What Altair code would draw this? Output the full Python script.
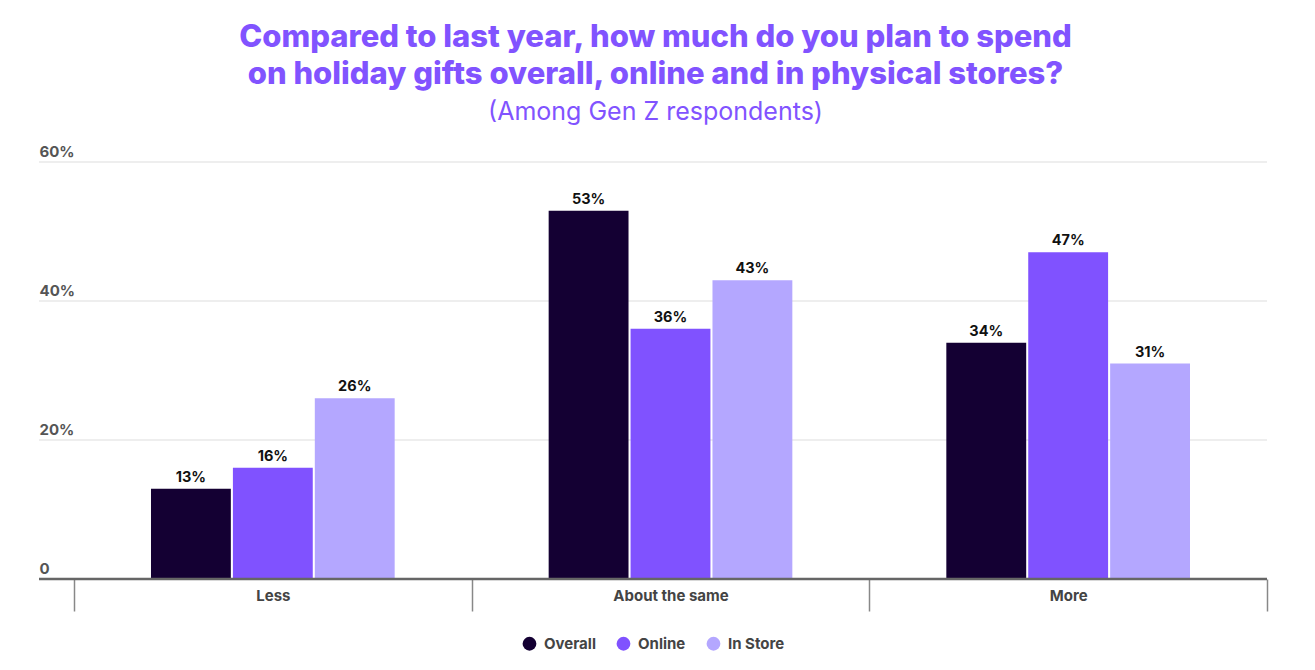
import altair as alt
import pandas as pd

categories = ["Less", "About the same", "More"]
series = ["Overall", "Online", "In Store"]
overall = [13, 53, 34]
online = [16, 36, 47]
instore = [26, 43, 31]
colors = ["#140033", "#8052FF", "#B4A7FF"]
grid_vals = [20, 40, 60]

rows = []
for s, vals in zip(series, [overall, online, instore]):
    for c, v in zip(categories, vals):
        rows.append({"category": c, "series": s, "value": v, "label": f"{v}%"})
df = pd.DataFrame(rows)

FONT = "Inter"
W, H = 1193, 417

x_enc = alt.X(
    "category:N", sort=categories,
    scale=alt.Scale(paddingInner=0, paddingOuter=0),
    axis=alt.Axis(title=None, tickBand="extent", tickSize=32, tickColor="#888",
                  tickWidth=1.5, domain=False, labelPadding=-23, labelFont=FONT,
                  labelFontSize=15, labelFontWeight="bold", labelColor="#444",
                  labelAngle=0),
)
xo_enc = alt.XOffset("series:N", sort=series,
                     scale=alt.Scale(paddingInner=0.025, paddingOuter=0.94))
y_enc = alt.Y(
    "value:Q", scale=alt.Scale(domain=[0, 60], nice=False),
    axis=alt.Axis(title=None, values=[0, 20, 40, 60],
                  labelExpr="datum.value == 0 ? '0' : datum.value + '%'",
                  grid=False, domain=False, ticks=False, labelAlign="left",
                  labelPadding=35, labelBaseline="alphabetic", labelOffset=-6,
                  labelFont=FONT, labelFontSize=15, labelFontWeight="bold",
                  labelColor="#555"),
)

grid = alt.Chart(pd.DataFrame({"v": grid_vals})).mark_rule(
    color="#dddddd", strokeWidth=1
).encode(y=alt.Y("v:Q"), x=alt.value(-35), x2=alt.value(W))

bars = alt.Chart(df).mark_bar().encode(
    x=x_enc, xOffset=xo_enc, y=y_enc,
    color=alt.Color("series:N", sort=series,
                    scale=alt.Scale(domain=series, range=colors),
                    legend=alt.Legend(title=None, orient="none", direction="horizontal",
                                      legendX=448, legendY=474, symbolType="circle",
                                      symbolSize=190, symbolStrokeWidth=0,
                                      labelFont=FONT, labelFontSize=15,
                                      labelFontWeight="bold", labelColor="#444",
                                      columnPadding=20, labelOffset=7)),
)

labels = alt.Chart(df).mark_text(
    baseline="bottom", dy=-4, font=FONT, fontSize=14.5, fontWeight="bold", color="#111"
).encode(x=x_enc, xOffset=xo_enc, y=y_enc, text="label:N")

baseline = alt.Chart(pd.DataFrame({"v": [0]})).mark_rule(
    color="#666", strokeWidth=2.5
).encode(y=alt.Y("v:Q"), x=alt.value(-35), x2=alt.value(W))

chart = alt.layer(grid, bars, labels, baseline).properties(
    width=W, height=H,
    padding={"left": 29, "top": 14, "right": 10, "bottom": 5},
    title=alt.TitleParams(
        text=["Compared to last year, how much do you plan to spend",
              "on holiday gifts overall, online and in physical stores?"],
        subtitle="(Among Gen Z respondents)",
        font=FONT, fontSize=31, fontWeight=800, color="#8153FF",
        lineHeight=37, subtitleFont=FONT, subtitleFontSize=25,
        subtitleFontWeight="normal", subtitleColor="#8153FF",
        subtitlePadding=9, anchor="middle", offset=18, dx=-15,
    ),
).configure_view(stroke=None)

chart.save("out.html", embed_options={"renderer": "svg", "actions": False})
